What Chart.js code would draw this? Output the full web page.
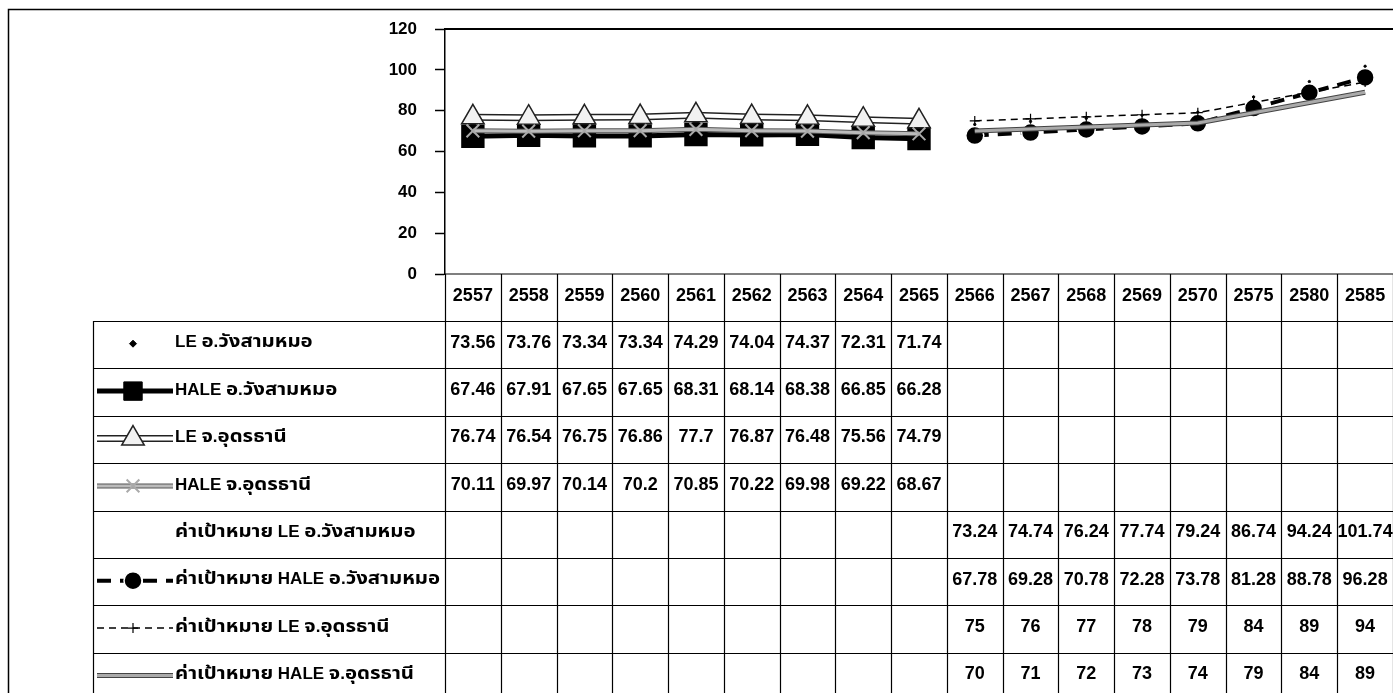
<!DOCTYPE html>
<html>
<head>
<meta charset="utf-8">
<script src="https://cdn.jsdelivr.net/npm/chart.js@4.4.0/dist/chart.umd.min.js"></script>
<style>
html, body { margin: 0; padding: 0; background: #fff; }
</style>
</head>
<body>
<canvas id="lifeChart" width="1393" height="693"></canvas>
<script>
// ปี พ.ศ. (หัวตาราง)
const years = ['2557', '2558', '2559', '2560', '2561', '2562', '2563', '2564', '2565',
               '2566', '2567', '2568', '2569', '2570', '2575', '2580', '2585'];

const seriesNames = [
    'LE อ.วังสามหมอ',
    'HALE อ.วังสามหมอ',
    'LE จ.อุดรธานี',
    'HALE จ.อุดรธานี',
    'ค่าเป้าหมาย LE อ.วังสามหมอ',
    'ค่าเป้าหมาย HALE อ.วังสามหมอ',
    'ค่าเป้าหมาย LE จ.อุดรธานี',
    'ค่าเป้าหมาย HALE จ.อุดรธานี'
];

const gap8 = [null, null, null, null, null, null, null, null];
const gap9 = [null, null, null, null, null, null, null, null, null];

const leWang = [73.56, 73.76, 73.34, 73.34, 74.29, 74.04, 74.37, 72.31, 71.74, ...gap8];
const haleWang = [67.46, 67.91, 67.65, 67.65, 68.31, 68.14, 68.38, 66.85, 66.28, ...gap8];
const leUdon = [76.74, 76.54, 76.75, 76.86, 77.7, 76.87, 76.48, 75.56, 74.79, ...gap8];
const haleUdon = [70.11, 69.97, 70.14, 70.2, 70.85, 70.22, 69.98, 69.22, 68.67, ...gap8];
const targetLeWang = [...gap9, 73.24, 74.74, 76.24, 77.74, 79.24, 86.74, 94.24, 101.74];
const targetHaleWang = [...gap9, 67.78, 69.28, 70.78, 72.28, 73.78, 81.28, 88.78, 96.28];
const targetLeUdon = [...gap9, 75, 76, 77, 78, 79, 84, 89, 94];
const targetHaleUdon = [...gap9, 70, 71, 72, 73, 74, 79, 84, 89];

const yTicks = [0, 20, 40, 60, 80, 100, 120];

const NUM_FONT = "'Liberation Sans', Arial, sans-serif";
const THAI_FONT = "'Liberation Sans', 'Noto Sans Thai', 'DejaVu Sans', sans-serif";
const THAI_STRETCH = 1.2;

// ตารางข้อมูลใต้กราฟ
const TABLE_LEFT = 93;
const ROW_TOP = 321;
const ROW_H = 47.4;

function ds(label, data, style) {
    return Object.assign({ label, data, spanGaps: false, fill: false, tension: 0 }, style);
}

const datasets = [
    ds(seriesNames[0], leWang, {
        showLine: false, pointStyle: 'rectRot', pointRadius: 3.5,
        pointBackgroundColor: '#000', pointBorderColor: '#000', borderColor: '#000', borderWidth: 1
    }),
    ds(seriesNames[1], haleWang, {
        borderColor: '#000', borderWidth: 5, pointStyle: 'rect', pointRadius: 13,
        pointBackgroundColor: '#000', pointBorderColor: '#000'
    }),
    ds(seriesNames[2], leUdon, {
        borderColor: '#fff', borderWidth: 4, outlineColor: '#222', outlineWidth: 7,
        pointStyle: 'triangle', pointRadius: 13, pointBackgroundColor: '#f2f2f2',
        pointBorderColor: '#222', pointBorderWidth: 1.5
    }),
    ds(seriesNames[3], haleUdon, {
        borderColor: '#bbb', borderWidth: 3, outlineColor: '#555', outlineWidth: 5,
        pointStyle: 'crossRot', pointRadius: 9, pointBackgroundColor: '#bbb',
        pointBorderColor: '#aaa', pointBorderWidth: 2
    }),
    ds(seriesNames[4], targetLeWang, {
        showLine: false, pointRadius: 1.2, pointBackgroundColor: '#000',
        pointBorderColor: '#000', borderColor: '#000', noKey: true
    }),
    ds(seriesNames[5], targetHaleWang, {
        borderColor: '#000', borderWidth: 4, borderDash: [14, 9], pointStyle: 'circle',
        pointRadius: 9, pointBackgroundColor: '#000', pointBorderColor: '#fff', pointBorderWidth: 1.5
    }),
    ds(seriesNames[6], targetLeUdon, {
        borderColor: '#000', borderWidth: 1.5, borderDash: [7, 5], pointStyle: 'cross',
        pointRadius: 5, pointBorderColor: '#000', pointBorderWidth: 1.2
    }),
    ds(seriesNames[7], targetHaleUdon, {
        borderColor: '#aaa', borderWidth: 3, outlineColor: '#444', outlineWidth: 5,
        pointRadius: 0
    })
];
// Excel วาดชุดหลังทับชุดก่อน
datasets.forEach((d, i) => { d.order = -i; });

const outlinePlugin = {
    id: 'outline',
    beforeDatasetDraw(chart, args) {
        const dset = chart.data.datasets[args.index];
        if (!dset.outlineColor) return;
        const ctx = chart.ctx;
        const pts = args.meta.data;
        ctx.save();
        ctx.strokeStyle = dset.outlineColor;
        ctx.lineWidth = dset.outlineWidth;
        ctx.lineJoin = 'round';
        ctx.beginPath();
        let started = false;
        pts.forEach(p => {
            if (p.skip) { started = false; return; }
            if (!started) { ctx.moveTo(p.x, p.y); started = true; }
            else ctx.lineTo(p.x, p.y);
        });
        ctx.stroke();
        ctx.restore();
    }
};

function drawKey(ctx, dset, cx, cy) {
    if (dset.noKey) return;
    const x0 = cx - 36, x1 = cx + 40;
    ctx.save();
    if (dset.showLine !== false) {
        if (dset.outlineColor) {
            ctx.strokeStyle = dset.outlineColor;
            ctx.lineWidth = dset.outlineWidth;
            ctx.beginPath(); ctx.moveTo(x0, cy); ctx.lineTo(x1, cy); ctx.stroke();
        }
        ctx.strokeStyle = dset.borderColor;
        ctx.lineWidth = dset.borderWidth;
        ctx.setLineDash(dset.borderDash || []);
        ctx.beginPath(); ctx.moveTo(x0, cy); ctx.lineTo(x1, cy); ctx.stroke();
        ctx.setLineDash([]);
    }
    if (dset.pointRadius > 0) {
        ctx.fillStyle = dset.pointBackgroundColor || dset.borderColor;
        ctx.strokeStyle = dset.pointBorderColor || dset.borderColor;
        ctx.lineWidth = dset.pointBorderWidth || 1;
        Chart.helpers.drawPoint(ctx, {
            pointStyle: dset.pointStyle || 'circle',
            radius: dset.pointRadius,
            rotation: 0,
            borderWidth: dset.pointBorderWidth || 1
        }, cx, cy);
    }
    ctx.restore();
}

// ข้อความไทยในฟอนต์ที่มีอยู่แคบกว่าต้นฉบับ จึงยืดเฉพาะช่วงอักษรไทย
function drawLabel(ctx, text, x, y) {
    ctx.font = 'bold 17px ' + THAI_FONT;
    ctx.textAlign = 'left';
    text.split(/([\u0E00-\u0E7F]+)/).forEach(run => {
        if (!run) return;
        const w = ctx.measureText(run).width;
        if (/[\u0E00-\u0E7F]/.test(run)) {
            ctx.save();
            ctx.translate(x, y);
            ctx.scale(THAI_STRETCH, 1);
            ctx.fillText(run, 0, 0);
            ctx.restore();
            x += w * THAI_STRETCH;
        } else {
            ctx.fillText(run, x, y);
            x += w;
        }
    });
}

const tablePlugin = {
    id: 'dataTable',
    afterDraw(chart) {
        const ctx = chart.ctx;
        const area = chart.chartArea;
        const xs = chart.scales.x;
        const n = years.length;
        const colW = (area.right - area.left) / n;
        const bottom = chart.height;
        const rows = chart.data.datasets.length;
        ctx.save();

        // กรอบนอก
        ctx.strokeStyle = '#000';
        ctx.lineWidth = 1.5;
        ctx.beginPath();
        ctx.moveTo(8.5, bottom); ctx.lineTo(8.5, 9.5); ctx.lineTo(chart.width, 9.5);
        ctx.stroke();

        // ขอบบนพื้นที่กราฟ
        ctx.lineWidth = 2;
        ctx.beginPath();
        ctx.moveTo(area.left, area.top); ctx.lineTo(area.right, area.top);
        ctx.stroke();

        // เส้นตาราง
        ctx.lineWidth = 1.2;
        ctx.beginPath();
        ctx.moveTo(area.left, area.bottom); ctx.lineTo(area.right, area.bottom);
        for (let r = 0; r <= rows; r++) {
            const y = Math.round(ROW_TOP + r * ROW_H) + 0.5;
            ctx.moveTo(TABLE_LEFT, y); ctx.lineTo(area.right, y);
        }
        for (let i = 0; i <= n; i++) {
            const x = Math.round(area.left + i * colW) + 0.5;
            ctx.moveTo(x, area.bottom); ctx.lineTo(x, bottom);
        }
        ctx.moveTo(TABLE_LEFT + 0.5, ROW_TOP); ctx.lineTo(TABLE_LEFT + 0.5, bottom);
        ctx.stroke();

        // หัวตาราง: ปี
        ctx.fillStyle = '#000';
        ctx.textBaseline = 'middle';
        ctx.textAlign = 'center';
        ctx.font = 'bold 18px ' + NUM_FONT;
        chart.data.labels.forEach((lab, i) => {
            ctx.fillText(lab, xs.getPixelForValue(i), (area.bottom + ROW_TOP) / 2 - 1);
        });

        // ค่าในตาราง
        chart.data.datasets.forEach((dset, r) => {
            const cy = ROW_TOP + r * ROW_H + ROW_H / 2 - 2;
            ctx.textAlign = 'center';
            ctx.font = 'bold 18px ' + NUM_FONT;
            dset.data.forEach((v, i) => {
                if (v === null) return;
                ctx.fillText(String(v), xs.getPixelForValue(i), cy);
            });
            drawKey(ctx, dset, 133, cy + 1);
            ctx.fillStyle = '#000';
            drawLabel(ctx, dset.label, 175, cy);
        });
        ctx.restore();
    }
};

new Chart(document.getElementById('lifeChart'), {
    type: 'line',
    data: { labels: years, datasets },
    options: {
        responsive: false,
        animation: false,
        devicePixelRatio: 1,
        layout: { autoPadding: false, padding: { top: 29, right: 0, bottom: 0, left: 0 } },
        plugins: { legend: { display: false }, tooltip: { enabled: false } },
        scales: {
            x: {
                offset: true,
                grid: { display: false },
                border: { display: false },
                // ปีถูกเขียนเป็นหัวตารางข้อมูลใน dataTable plugin
                ticks: { display: false },
                afterFit(scale) { scale.height = 419; }
            },
            y: {
                min: 0, max: 120,
                afterBuildTicks(scale) { scale.ticks = yTicks.map(v => ({ value: v })); },
                ticks: { color: '#000', font: { size: 17, weight: 'bold', family: NUM_FONT }, padding: 18 },
                grid: { drawOnChartArea: false, color: '#000', tickLength: 10, tickWidth: 1.5 },
                border: { color: '#000', width: 1.5 },
                afterFit(scale) { scale.width = 445; }
            }
        }
    },
    plugins: [outlinePlugin, tablePlugin]
});
</script>
</body>
</html>
